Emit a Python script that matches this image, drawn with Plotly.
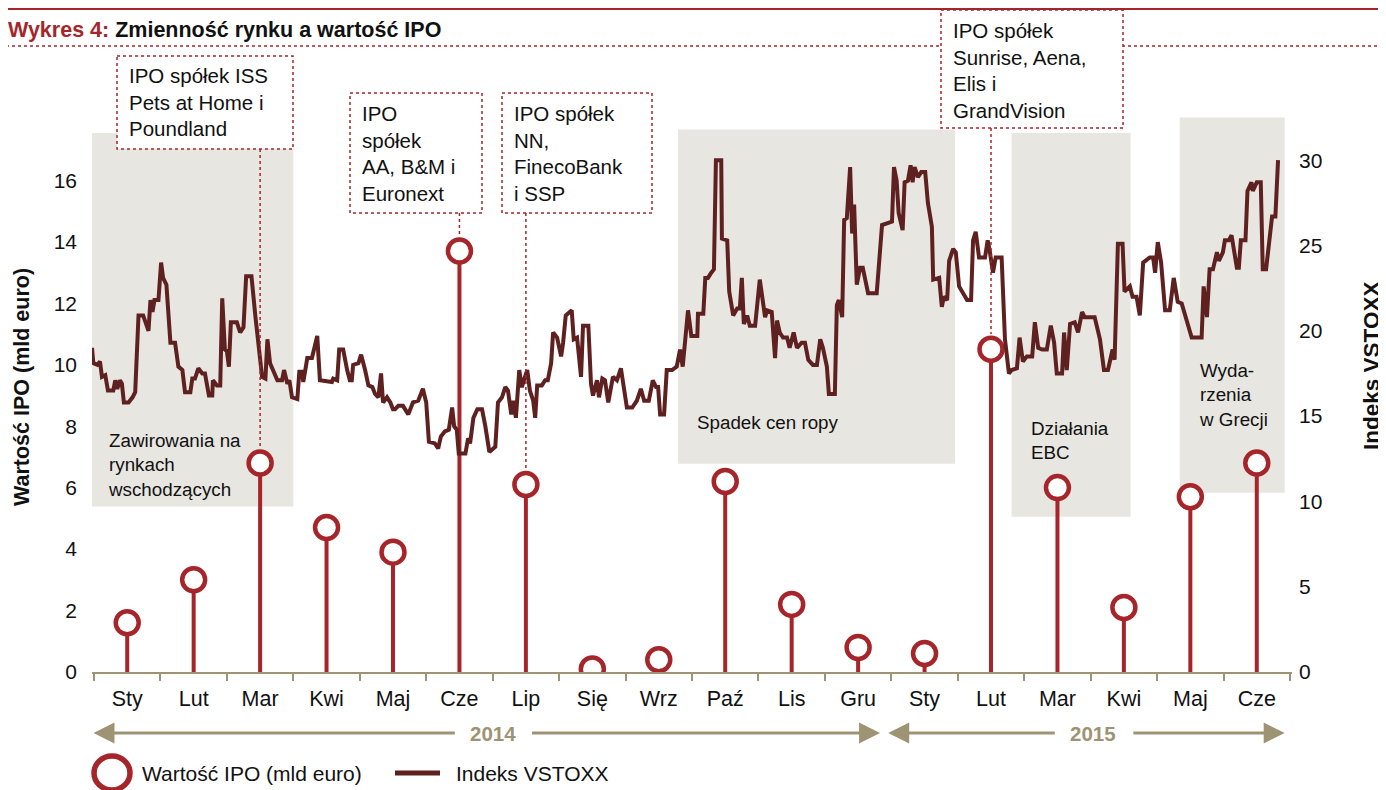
import plotly.graph_objects as go

# --- data -----------------------------------------------------------------
months = ["Sty", "Lut", "Mar", "Kwi", "Maj", "Cze", "Lip", "Się", "Wrz",
          "Paź", "Lis", "Gru", "Sty", "Lut", "Mar", "Kwi", "Maj", "Cze"]
ipo_value = [1.6, 3.0, 6.8, 4.7, 3.9, 13.7, 6.1, 0.1, 0.4, 6.2, 2.2, 0.8,
             0.6, 10.5, 6.0, 2.1, 5.7, 6.8]

# VSTOXX, position in months from Jan 2014 (0 = Sty 2014)
vstoxx_t = [
    -0.53, -0.51, -0.45, -0.41, -0.38, -0.33, -0.29, -0.21, -0.18, -0.15,
    -0.11, -0.08, -0.05, 0.02, 0.08, 0.12, 0.17, 0.24, 0.32, 0.35,
    0.38, 0.41, 0.47, 0.51, 0.54, 0.59, 0.65, 0.72, 0.77, 0.83,
    0.87, 0.95, 0.98, 1.02, 1.07, 1.13, 1.17, 1.23, 1.28, 1.29,
    1.35, 1.40, 1.43, 1.47, 1.50, 1.53, 1.56, 1.65, 1.70, 1.75,
    1.79, 1.87, 1.93, 1.97, 2.03, 2.08, 2.11, 2.15, 2.20, 2.26,
    2.33, 2.36, 2.41, 2.44, 2.48, 2.56, 2.59, 2.63, 2.65, 2.71,
    2.78, 2.86, 2.90, 3.08, 3.10, 3.16, 3.19, 3.25, 3.31, 3.35,
    3.38, 3.40, 3.48, 3.52, 3.58, 3.63, 3.69, 3.73, 3.78, 3.82,
    3.85, 3.91, 3.96, 4.00, 4.03, 4.08, 4.15, 4.23, 4.30, 4.38,
    4.45, 4.50, 4.54, 4.63, 4.68, 4.72, 4.78, 4.84, 4.89, 4.92,
    4.96, 4.99, 5.09, 5.13, 5.16, 5.21, 5.27, 5.34, 5.39, 5.45,
    5.54, 5.58, 5.64, 5.69, 5.73, 5.78, 5.81, 5.85, 5.90, 5.94,
    5.97, 6.02, 6.06, 6.11, 6.14, 6.17, 6.24, 6.29, 6.33, 6.38,
    6.41, 6.47, 6.53, 6.56, 6.60, 6.69, 6.72, 6.77, 6.83, 6.86,
    6.94, 6.98, 7.01, 7.07, 7.10, 7.15, 7.19, 7.24, 7.31, 7.37,
    7.43, 7.46, 7.52, 7.60, 7.67, 7.73, 7.78, 7.85, 7.91, 7.96,
    7.99, 8.02, 8.08, 8.12, 8.20, 8.27, 8.32, 8.36, 8.44, 8.49,
    8.58, 8.59, 8.67, 8.70, 8.74, 8.79, 8.83, 8.86, 8.94, 8.95,
    9.03, 9.06, 9.12, 9.18, 9.22, 9.25, 9.28, 9.33, 9.37, 9.45,
    9.52, 9.60, 9.63, 9.70, 9.75, 9.78, 9.82, 9.87, 9.93, 9.97,
    10.03, 10.08, 10.15, 10.20, 10.25, 10.32, 10.38, 10.43, 10.47, 10.53,
    10.56, 10.65, 10.68, 10.71, 10.76, 10.79, 10.83, 10.88, 10.91, 10.94,
    10.98, 11.03, 11.07, 11.15, 11.28, 11.36, 11.51, 11.54, 11.58, 11.61,
    11.67, 11.70, 11.75, 11.79, 11.82, 11.85, 11.90, 11.95, 12.01, 12.05,
    12.11, 12.13, 12.19, 12.22, 12.26, 12.29, 12.34, 12.37, 12.43, 12.47,
    12.52, 12.58, 12.64, 12.70, 12.73, 12.77, 12.82, 12.91, 12.95, 12.98,
    13.03, 13.07, 13.16, 13.21, 13.27, 13.31, 13.39, 13.43, 13.48, 13.54,
    13.62, 13.66, 13.71, 13.77, 13.84, 13.90, 13.95, 13.99, 14.07, 14.10,
    14.14, 14.19, 14.26, 14.31, 14.37, 14.41, 14.56, 14.64, 14.70, 14.76,
    14.83, 14.86, 14.91, 14.98, 15.01, 15.09, 15.13, 15.19, 15.24, 15.29,
    15.39, 15.44, 15.47, 15.51, 15.56, 15.62, 15.69, 15.75, 15.81, 15.87,
    15.95, 16.02, 16.17, 16.20, 16.25, 16.29, 16.34, 16.40, 16.43, 16.49,
    16.52, 16.58, 16.62, 16.70, 16.73, 16.76, 16.83, 16.86, 16.92, 16.94,
    17.00, 17.06, 17.09, 17.14, 17.23, 17.28, 17.32,
]
vstoxx = [
    19.0, 18.1, 18.0, 18.2, 17.3, 17.4, 16.5, 16.5, 17.1, 16.6,
    17.1, 16.9, 15.8, 15.8, 16.1, 16.4, 20.9, 20.9, 20.0, 21.8,
    21.1, 21.8, 21.8, 24.0, 23.1, 22.7, 19.3, 19.3, 17.9, 17.7,
    16.4, 16.4, 17.2, 17.2, 17.8, 17.5, 17.5, 16.2, 16.2, 17.1,
    16.8, 16.8, 21.9, 18.9, 18.8, 17.9, 20.5, 20.5, 19.9, 20.2,
    23.2, 23.2, 20.8, 19.3, 17.3, 17.2, 19.5, 18.1, 17.7, 17.1,
    17.1, 17.7, 16.9, 17.1, 16.1, 16.0, 17.6, 17.6, 17.0, 18.4,
    18.4, 19.7, 17.1, 17.0, 17.2, 17.1, 18.9, 18.9, 17.7, 17.1,
    17.1, 18.0, 18.1, 18.6, 17.7, 16.8, 16.7, 16.3, 16.1, 17.5,
    15.8, 16.1, 15.8, 15.4, 15.4, 15.6, 15.6, 15.1, 15.8, 15.9,
    16.6, 15.8, 13.5, 13.4, 13.1, 13.8, 14.1, 14.2, 15.5, 14.4,
    14.2, 12.8, 12.8, 13.7, 13.4, 14.9, 15.4, 15.4, 14.4, 12.9,
    13.2, 15.8, 16.1, 16.7, 16.5, 15.1, 15.9, 14.9, 17.7, 16.7,
    17.1, 17.7, 16.5, 15.9, 14.9, 16.8, 16.8, 17.1, 17.1, 18.1,
    19.9, 19.6, 18.5, 19.3, 20.9, 21.2, 19.5, 19.6, 17.3, 20.3,
    20.3, 16.9, 16.2, 17.1, 16.1, 17.2, 17.1, 15.8, 17.3, 17.1,
    17.8, 17.1, 15.5, 15.5, 15.9, 16.6, 15.9, 15.9, 17.1, 16.7,
    16.7, 15.1, 15.1, 17.7, 17.7, 17.9, 18.9, 17.9, 21.2, 19.7,
    19.7, 21.0, 21.0, 23.1, 23.1, 23.4, 23.6, 30.0, 30.0, 25.4,
    25.3, 22.3, 20.9, 21.3, 21.3, 23.1, 20.4, 20.9, 20.3, 20.3,
    23.0, 20.8, 21.2, 21.1, 18.4, 20.6, 19.9, 19.6, 19.6, 19.0,
    19.9, 19.0, 19.3, 19.3, 18.3, 18.0, 18.0, 19.5, 19.0, 17.9,
    16.3, 16.3, 21.5, 21.8, 20.8, 26.5, 26.6, 29.6, 25.7, 27.4,
    22.7, 23.7, 23.7, 22.2, 22.2, 26.2, 26.4, 29.6, 28.8, 26.9,
    25.9, 28.7, 28.8, 29.7, 28.7, 29.6, 29.0, 29.3, 29.3, 27.5,
    26.1, 23.0, 23.1, 23.1, 21.4, 22.0, 21.8, 24.1, 24.8, 24.6,
    22.6, 22.2, 21.8, 21.8, 25.3, 25.8, 24.3, 24.3, 25.3, 24.7,
    23.4, 24.3, 24.3, 19.5, 17.5, 17.7, 17.8, 19.6, 18.2, 18.5,
    18.5, 20.5, 19.0, 18.9, 18.9, 20.3, 19.3, 17.5, 17.5, 19.9,
    17.7, 20.4, 20.5, 19.9, 21.1, 20.8, 20.8, 19.5, 17.7, 17.7,
    18.9, 18.3, 25.1, 25.1, 22.3, 22.6, 22.0, 22.0, 20.9, 24.0,
    24.3, 24.3, 23.4, 25.2, 24.0, 21.2, 21.2, 23.1, 21.7, 21.6,
    20.6, 19.6, 19.6, 22.6, 20.8, 23.6, 23.6, 24.6, 24.1, 24.6,
    25.3, 25.3, 25.6, 23.7, 23.7, 25.3, 25.3, 28.2, 28.7, 28.2,
    28.7, 28.7, 23.6, 23.6, 26.7, 26.7, 30.0,
]

# shaded event periods: (start, end, bottom, top on VSTOXX axis, label)
events = [
    (-0.56, 2.50, 9.7, 31.6, "Zawirowania na<br>rynkach<br>wschodzących"),
    (8.29, 12.46, 12.2, 31.8, "Spadek cen ropy"),
    (13.31, 15.10, 9.1, 31.6, "Działania<br>EBC"),
    (15.84, 17.42, 10.5, 32.5, "Wyda-<br>rzenia<br>w Grecji"),
]

# year spans: (start, end, label, label centre, half gap around label)
years = [(-0.53, 11.33, "2014", 5.5, 0.57),
         (11.43, 17.42, "2015", 14.54, 0.58)]

# --- styling ---------------------------------------------------------------
RED = "#a6252a"
MAROON = "#5e2120"
TAN = "#9e9372"
GREY = "#e8e6e1"
INK = "#111111"
FONT = "Liberation Sans, Arial, sans-serif"

# the page body adds an 8px margin, so the figure is 8px smaller and
# positions below are given in window pixels
OFF = 8
W, H = 1386 - OFF, 790 - OFF
ML, MR, MT, MB = 92 - OFF, 94, 109 - OFF, 118


def px_x(px):
    return (px - OFF - ML) / (W - ML - MR)


def px_y(py):
    return (H - MB - (py - OFF)) / (H - MT - MB)


fig = go.Figure()

fig.add_trace(go.Scatter(
    x=vstoxx_t, y=vstoxx, yaxis="y2", mode="lines", name="Indeks VSTOXX",
    line=dict(color=MAROON, width=4),
))

stem_x, stem_y = [], []
for i, v in enumerate(ipo_value):
    stem_x += [i, i, None]
    stem_y += [0, v, None]
fig.add_trace(go.Scatter(
    x=stem_x, y=stem_y, mode="lines", showlegend=False,
    line=dict(color=RED, width=4), hoverinfo="skip",
))
fig.add_trace(go.Scatter(
    x=list(range(len(months))), y=ipo_value, mode="markers",
    name="Wartość IPO (mld euro)",
    marker=dict(size=23, color="white", line=dict(color=RED, width=4.5)),
))

shapes = []
annotations = []

# header lines
shapes.append(dict(type="line", xref="paper", yref="paper", x0=px_x(0),
                   x1=px_x(1400), y0=px_y(9), y1=px_y(9),
                   line=dict(color=RED, width=2)))
shapes.append(dict(type="line", xref="paper", yref="paper", x0=px_x(0),
                   x1=px_x(1400), y0=px_y(46), y1=px_y(46),
                   line=dict(color=RED, width=1.5, dash="dot")))
annotations.append(dict(
    text="<b><span style='color:%s'>Wykres 4:</span> "
         "Zmienność rynku a wartość IPO</b>" % RED,
    xref="paper", yref="paper", x=px_x(6), y=px_y(30), xanchor="left",
    yanchor="middle", showarrow=False,
    font=dict(size=21.5, color=INK, family=FONT)))

# shaded event periods
for x0, x1, y0, y1, label in events:
    shapes.append(dict(type="rect", xref="x", yref="y2", x0=x0, x1=x1,
                       y0=y0, y1=y1, fillcolor=GREY, line_width=0,
                       layer="below"))

event_text_pos = [(106, 428), (695, 410), (1029, 416), (1197, 358)]
for (tx, ty), ev in zip(event_text_pos, events):
    annotations.append(dict(
        text=ev[4], xref="paper", yref="paper", x=px_x(tx), y=px_y(ty),
        xanchor="left", yanchor="top", align="left", showarrow=False,
        font=dict(size=18.8, color=INK, family=FONT)))

# IPO callout boxes: (x0, x1, y0, y1, month index, circle top px,
#                     text centre px, text)
callouts = [
    (117, 293, 56, 149, 2, 447, 102,
     "IPO spółek ISS<br>Pets at Home i<br>Poundland"),
    (350, 482, 93, 213, 5, 235, 154,
     "IPO<br>spółek<br>AA, B&M i<br>Euronext"),
    (502, 652, 93, 213, 6, 468, 153,
     "IPO spółek<br>NN,<br>FinecoBank<br>i SSP"),
    (941, 1123, 10, 128, 13, 334, 70,
     "IPO spółek<br>Sunrise, Aena,<br>Elis i<br>GrandVision"),
]
for x0, x1, y0, y1, m, ctop, tmid, text in callouts:
    shapes.append(dict(type="rect", xref="paper", yref="paper",
                       x0=px_x(x0), x1=px_x(x1), y0=px_y(y0), y1=px_y(y1),
                       fillcolor="white", layer="above",
                       line=dict(color=RED, width=1.5, dash="dot")))
    shapes.append(dict(type="line", xref="x", yref="paper", x0=m, x1=m,
                       y0=px_y(y1), y1=px_y(ctop), layer="above",
                       line=dict(color=RED, width=1.5, dash="dot")))
    annotations.append(dict(
        text=text, xref="paper", yref="paper", x=px_x(x0 + 10),
        y=px_y(tmid), xanchor="left", yanchor="middle", align="left",
        showarrow=False, font=dict(size=20.5, color=INK, family=FONT)))

# year arrows, split around the label
year_y = px_y(733)
for xs, xe, label, xm, gap in years:
    annotations.append(dict(
        text="", x=xm - gap, y=year_y, ax=xs, ay=0, xref="x", yref="paper",
        axref="x", ayref="pixel", showarrow=True, arrowside="start",
        arrowhead=2, arrowsize=1.4, arrowwidth=3, arrowcolor=TAN,
        standoff=0, startstandoff=0, startarrowhead=2, startarrowsize=1.4))
    annotations.append(dict(
        text="", x=xe, y=year_y, ax=xm + gap, ay=0, xref="x", yref="paper",
        axref="x", ayref="pixel", showarrow=True, arrowside="end",
        arrowhead=2, arrowsize=1.4, arrowwidth=3, arrowcolor=TAN,
        standoff=0, startstandoff=0))
    annotations.append(dict(
        text="<b>" + label + "</b>", x=xm, y=year_y, xref="x", yref="paper",
        xanchor="center", yanchor="middle", showarrow=False,
        font=dict(size=20.5, color=TAN, family=FONT)))

# axis titles
annotations.append(dict(
    text="<b>Wartość IPO (mld euro)</b>", textangle=-90, xref="paper",
    yref="paper", x=px_x(22), y=px_y(387), xanchor="center",
    yanchor="middle", showarrow=False,
    font=dict(size=21.5, color=INK, family=FONT)))
annotations.append(dict(
    text="<b>Indeks VSTOXX</b>", textangle=-90, xref="paper",
    yref="paper", x=px_x(1371), y=px_y(366), xanchor="center",
    yanchor="middle", showarrow=False,
    font=dict(size=22.5, color=INK, family=FONT)))

# legend, drawn by hand to keep the large ring symbol
leg_y = 773
shapes.append(dict(type="circle", xref="paper", yref="paper",
                   x0=px_x(94), x1=px_x(130), y0=px_y(leg_y - 17),
                   y1=px_y(leg_y + 17), fillcolor="white",
                   line=dict(color=RED, width=5.5)))
annotations.append(dict(
    text="Wartość IPO (mld euro)", xref="paper", yref="paper",
    x=px_x(140), y=px_y(leg_y), xanchor="left", yanchor="middle",
    showarrow=False, font=dict(size=21, color=INK, family=FONT)))
shapes.append(dict(type="line", xref="paper", yref="paper",
                   x0=px_x(395), x1=px_x(440), y0=px_y(leg_y),
                   y1=px_y(leg_y), line=dict(color=MAROON, width=5)))
annotations.append(dict(
    text="Indeks VSTOXX", xref="paper", yref="paper",
    x=px_x(454), y=px_y(leg_y), xanchor="left", yanchor="middle",
    showarrow=False, font=dict(size=21, color=INK, family=FONT)))

fig.update_layout(
    width=W, height=H,
    margin=dict(l=ML, r=MR, t=MT, b=MB, autoexpand=False),
    paper_bgcolor="white", plot_bgcolor="white",
    font=dict(family=FONT, size=21, color=INK),
    xaxis=dict(
        range=[-0.53, 17.53], tickvals=list(range(len(months))),
        ticktext=months, ticks="", showgrid=False, zeroline=False,
        showline=True, linecolor=TAN, linewidth=2, automargin=False,
        minor=dict(tick0=0.5, dtick=1, ticks="outside", ticklen=7,
                   tickcolor=TAN, tickwidth=1.5),
        tickfont=dict(size=21.5), ticklabelstandoff=6, fixedrange=True,
    ),
    yaxis=dict(
        range=[0, 18.32], tickvals=list(range(0, 17, 2)), showgrid=False,
        zeroline=False, showline=False, ticks="", ticklabelstandoff=14,
        automargin=False, tickfont=dict(size=21),
    ),
    yaxis2=dict(
        range=[0, 33], tickvals=list(range(0, 31, 5)), overlaying="y",
        side="right", showgrid=False, zeroline=False, showline=False,
        ticks="", ticklabelstandoff=6, automargin=False,
        tickfont=dict(size=21),
    ),
    shapes=shapes,
    annotations=annotations,
    showlegend=False,
)

fig.write_html("out.html")
